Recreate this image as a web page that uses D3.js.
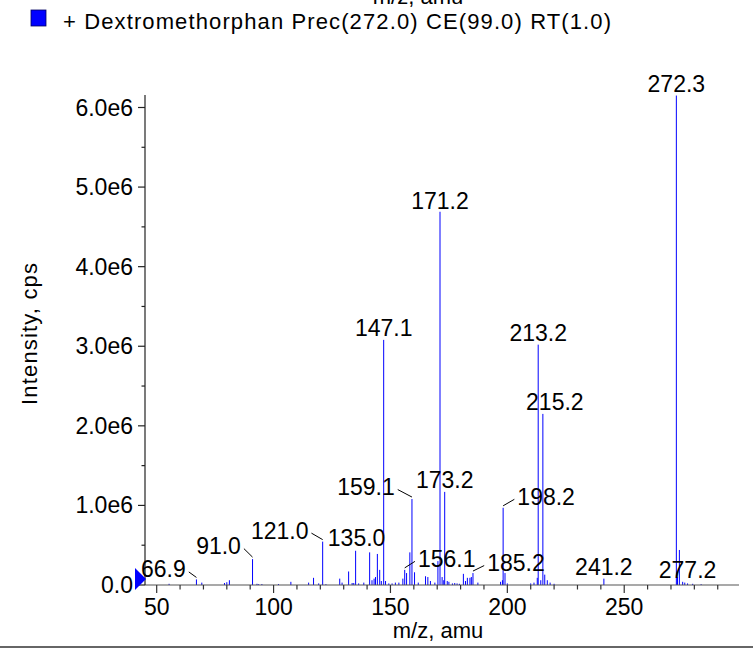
<!DOCTYPE html>
<html>
<head>
<meta charset="utf-8">
<script src="https://cdnjs.cloudflare.com/ajax/libs/d3/7.8.5/d3.min.js"></script>
<style>
  body { margin: 0; background: #fff; }
  svg { display: block; font-family: "Liberation Sans", Arial, Helvetica, sans-serif; }
</style>
</head>
<body>
<svg id="chart" width="753" height="651"></svg>
<script>
// peak list (m/z, intensity in cps)
const peakMz = [
  55.3, 67.0, 69.3, 79.0, 80.0, 81.1, 91.0, 92.9, 93.6, 95.0, 102.1, 107.4,
  115.0, 117.1, 119.3, 121.0, 122.4, 128.3, 129.3, 132.1, 133.6, 134.3, 135.1,
  136.4, 138.6, 141.1, 142.1, 143.0, 143.6, 144.4, 145.4, 146.1, 147.1, 147.9,
  149.3, 150.7, 152.1, 153.6, 155.3, 156.1, 156.9, 158.3, 159.2, 160.3, 161.9,
  165.0, 166.0, 167.1, 169.0, 170.3, 171.2, 172.1, 172.8, 173.2, 174.3, 175.0,
  176.5, 177.5, 178.5, 179.5, 181.2, 182.1, 182.9, 184.0, 184.6, 185.3, 187.4,
  197.1, 197.9, 198.2, 199.0, 200.0, 210.0, 211.4, 212.8, 213.2, 214.3, 215.2,
  216.0, 217.1, 218.3, 220.0, 241.3, 272.3, 272.8, 273.6, 275.0, 275.9, 277.1,
  279.3, 282.9
];
const peakInt = [
  0.015e6, 0.07e6, 0.03e6, 0.025e6, 0.035e6, 0.06e6, 0.325e6, 0.015e6, 0.01e6, 0.012e6, 0.012e6, 0.04e6,
  0.03e6, 0.09e6, 0.02e6, 0.545e6, 0.01e6, 0.08e6, 0.03e6, 0.17e6, 0.025e6, 0.025e6, 0.43e6,
  0.02e6, 0.03e6, 0.41e6, 0.06e6, 0.08e6, 0.1e6, 0.39e6, 0.19e6, 0.05e6, 3.08e6, 0.05e6,
  0.02e6, 0.02e6, 0.03e6, 0.03e6, 0.08e6, 0.19e6, 0.15e6, 0.41e6, 1.08e6, 0.16e6, 0.03e6,
  0.11e6, 0.1e6, 0.05e6, 0.03e6, 0.3e6, 4.69e6, 0.1e6, 0.06e6, 1.17e6, 0.05e6, 0.04e6,
  0.02e6, 0.025e6, 0.02e6, 0.015e6, 0.14e6, 0.05e6, 0.09e6, 0.09e6, 0.1e6, 0.15e6, 0.03e6,
  0.04e6, 0.06e6, 0.97e6, 0.15e6, 0.02e6, 0.02e6, 0.03e6, 0.09e6, 3.02e6, 0.06e6, 2.15e6,
  0.13e6, 0.06e6, 0.03e6, 0.015e6, 0.08e6, 6.15e6, 0.1e6, 0.44e6, 0.04e6, 0.03e6, 0.02e6,
  0.015e6, 0.01e6
];

// annotated peaks: label text and the m/z of the peak it points at
const labelText = ["272.3", "171.2", "147.1", "213.2", "215.2", "173.2", "159.1", "198.2",
  "156.1", "185.2", "121.0", "135.0", "91.0", "66.9", "241.2", "277.2"];
const labelMz = [272.3, 171.2, 147.1, 213.2, 215.2, 173.2, 159.2, 198.2,
  156.1, 185.3, 121.0, 135.1, 91.0, 67.0, 241.3, 277.1];

const xTicks = [50, 100, 150, 200, 250];
const yTicks = [0, 1e6, 2e6, 3e6, 4e6, 5e6, 6e6];

const legendText = "+ Dextromethorphan Prec(272.0) CE(99.0) RT(1.0)";
const xTitle = "m/z, amu";
const yTitle = "Intensity, cps";

// where each label sits relative to its peak top (px), and whether a leader is drawn
const labelPlace = {
  "272.3": [0, -4, false], "171.2": [0, -3, false], "147.1": [0, -4, false],
  "213.2": [0, -4, false], "215.2": [12, -4, false], "173.2": [0, -4, false],
  "159.1": [-46, -4, true], "198.2": [43, -3, true], "156.1": [42, -3, true],
  "185.2": [43, -2, true], "121.0": [-43, -3, true], "135.0": [1, -5, false],
  "91.0": [-34, -5, true], "66.9": [-33, -2, true], "241.2": [0, -4, false],
  "277.2": [0, -5, false]
};

const svg = d3.select("#chart");
const x0 = 145, x1 = 739, yBase = 585, yTop = 95;
const fs = 23;

const x = d3.scaleLinear().domain([45, 299.1]).range([x0, x1]);
const y = d3.scaleLinear().domain([0, 6.157e6]).range([yBase, yTop]);

const peaks = peakMz.map((m, i) => ({ mz: m, v: peakInt[i] }));

// top axis title, mostly cut off at the top edge (as in the source)
svg.append("text")
  .attr("x", 418).attr("y", 4)
  .attr("text-anchor", "middle")
  .attr("font-size", 22)
  .text(xTitle);

// legend
svg.append("rect")
  .attr("x", 31).attr("y", 10).attr("width", 15).attr("height", 16)
  .attr("fill", "#0000ff").attr("stroke", "#000060").attr("stroke-width", 0.8);
svg.append("text")
  .attr("x", 63).attr("y", 29)
  .attr("font-size", 22)
  .attr("textLength", 548)
  .attr("lengthAdjust", "spacing")
  .text(legendText);

// peaks
svg.append("g")
  .selectAll("line")
  .data(peaks)
  .join("line")
  .attr("x1", (d) => x(d.mz)).attr("x2", (d) => x(d.mz))
  .attr("y1", yBase).attr("y2", (d) => y(d.v))
  .attr("stroke", "#0000ff")
  .attr("stroke-width", 1);

// x axis
const gx = svg.append("g").attr("transform", "translate(0," + yBase + ")");
gx.append("line")
  .attr("x1", x0).attr("x2", x1)
  .attr("stroke", "#555").attr("stroke-width", 1.2);
gx.selectAll(".minor")
  .data(d3.range(50, 300, 10))
  .join("line")
  .attr("x1", (d) => x(d)).attr("x2", (d) => x(d))
  .attr("y1", 0).attr("y2", (d) => (d % 50 === 0 ? 8 : 4.5))
  .attr("stroke", "#333").attr("stroke-width", 1.2);
gx.selectAll(".lbl")
  .data(xTicks)
  .join("text")
  .attr("x", (d) => x(d)).attr("y", 30)
  .attr("text-anchor", "middle")
  .attr("font-size", fs)
  .text((d) => d);

// y axis
const gy = svg.append("g").attr("transform", "translate(" + x0 + ",0)");
gy.append("line")
  .attr("y1", yBase).attr("y2", yTop)
  .attr("stroke", "#222").attr("stroke-width", 1.2);
gy.selectAll(".minor")
  .data(d3.range(0, 6.01e6, 0.5e6))
  .join("line")
  .attr("y1", (d) => y(d)).attr("y2", (d) => y(d))
  .attr("x1", (d, i) => (i % 2 === 0 ? -7 : -3.5)).attr("x2", 0)
  .attr("stroke", "#222").attr("stroke-width", 1.2);
gy.selectAll(".lbl")
  .data(yTicks)
  .join("text")
  .attr("x", -12).attr("y", (d) => y(d))
  .attr("dy", "0.35em")
  .attr("text-anchor", "end")
  .attr("font-size", fs)
  .text((d) => (d === 0 ? "0.0" : (d / 1e6).toFixed(1) + "e6"));

// blue start marker at the axis origin
const ox = x(45), oy = y(0);
svg.append("path")
  .attr("d", `M${ox - 10},${oy - 17} L${ox + 1},${oy - 6} L${ox - 10},${oy + 5} Z`)
  .attr("fill", "#0000ff");

// peak labels with leader lines
const lblG = svg.append("g");
labelText.forEach((t, i) => {
  const mz = labelMz[i];
  const p = peaks.find((d) => d.mz === mz);
  const px = x(mz), py = y(p ? p.v : 0);
  const [dx, dy, lead] = labelPlace[t];
  const tx = px + dx, ty = py + dy;
  const txt = lblG.append("text")
    .attr("x", tx).attr("y", ty)
    .attr("text-anchor", "middle")
    .attr("font-size", fs)
    .text(t);
  if (lead) {
    const w = txt.node().getComputedTextLength();
    const sx = dx < 0 ? tx + w / 2 + 3 : tx - w / 2 - 3;
    lblG.append("line")
      .attr("x1", sx).attr("y1", ty - 5.5)
      .attr("x2", px).attr("y2", py - 2)
      .attr("stroke", "#000").attr("stroke-width", 1);
  }
});

// axis titles
svg.append("text")
  .attr("x", 438).attr("y", 638)
  .attr("text-anchor", "middle")
  .attr("font-size", 22)
  .text(xTitle);
svg.append("text")
  .attr("transform", "translate(37,334) rotate(-90)")
  .attr("text-anchor", "middle")
  .attr("font-size", 22)
  .attr("textLength", 142)
  .attr("lengthAdjust", "spacing")
  .text(yTitle);

// bottom rule
svg.append("line")
  .attr("x1", 0).attr("x2", 753).attr("y1", 647).attr("y2", 647)
  .attr("stroke", "#333").attr("stroke-width", 1.5);
</script>
</body>
</html>
